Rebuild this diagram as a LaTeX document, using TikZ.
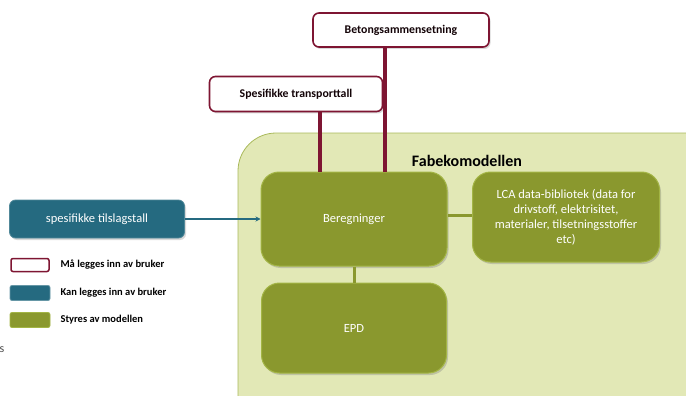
\documentclass[tikz,border=0pt]{standalone}
\usepackage{fontspec}
\setmainfont{Carlito}
\usetikzlibrary{arrows.meta,shadows}
\definecolor{olive}{HTML}{8A982E}
\definecolor{oliveedge}{HTML}{A3B545}
\definecolor{pale}{HTML}{E2E8B6}
\definecolor{paleedge}{HTML}{A9B95A}
\definecolor{wine}{HTML}{7E1532}
\definecolor{teal}{HTML}{256A80}
\tikzset{
  x=1pt,y=-1pt,
  greenbox/.style={draw=oliveedge,line width=1pt,fill=olive,rounded corners=18pt,
    drop shadow={shadow xshift=1.5pt,shadow yshift=-2pt,opacity=0.35}},
  inbox/.style={draw=wine,line width=1.6pt,fill=white,rounded corners=6pt,
    drop shadow={shadow xshift=1.5pt,shadow yshift=-2pt,opacity=0.3}},
  tealbox/.style={draw=teal!80!white,line width=0.8pt,fill=teal,rounded corners=6pt,
    drop shadow={shadow xshift=1.5pt,shadow yshift=-2pt,opacity=0.3}},
  wtext/.style={text=white,font=\fontsize{12.5}{15}\selectfont,align=center},
  btext/.style={text=black!85!wine,font=\fontsize{11.8}{14}\bfseries\selectfont},
  legtext/.style={anchor=west,font=\fontsize{10.5}{12}\bfseries\selectfont},
  wineline/.style={draw=wine,line width=3.5pt},
  oliveline/.style={draw=olive,line width=3pt},
}
\begin{document}
\begin{tikzpicture}
\useasboundingbox (0,0) rectangle (686,396);
% big model area
\fill[pale,draw=paleedge,line width=0.8pt,rounded corners=38pt] (238,133) rectangle (740,440);
\node[font=\fontsize{16}{18}\bfseries\selectfont] (title) at (467,161) {Fabekomodellen};
% boxes
\node[greenbox,minimum width=186pt,minimum height=94pt] (ber) at (354,219) {};
\node[wtext] at (ber) {Beregninger};
\node[greenbox,minimum width=187pt,minimum height=90pt] (lca) at (566,217) {};
\node[wtext] at (lca) {LCA data-bibliotek (data for\\drivstoff, elektrisitet,\\materialer, tilsetningsstoffer\\etc)};
\node[greenbox,minimum width=185pt,minimum height=90pt] (epd) at (354,328) {};
\node[wtext] at (epd) {EPD};
\node[inbox,minimum width=176pt,minimum height=34pt] (bet) at (401,30) {};
\node[btext] at (bet) {Betongsammensetning};
\node[inbox,minimum width=173pt,minimum height=35pt] (tra) at (296,94) {};
\node[btext] at (tra) {Spesifikke transporttall};
\node[tealbox,minimum width=175pt,minimum height=38pt] (til) at (97,219) {};
\node[wtext] at (til) {spesifikke tilslagstall};
% connectors
\draw[wineline] (tra.south -| 320,0) -- (ber.north -| 320,0);
\draw[wineline] (bet.south -| 385,0) -- (ber.north -| 385,0);
\draw[draw=teal,line width=2pt,-{Stealth[length=5pt,width=5pt]}] (til.east) -- (til.east -| ber.west);
\draw[oliveline] (lca.west |- 0,215) -- (ber.east |- 0,215);
\draw[oliveline] (ber.south) -- (epd.north);
% legend
\node[draw=wine,line width=1.5pt,fill=white,rounded corners=2pt,minimum width=38pt,minimum height=13pt] (l1) at (30,265) {};
\node[draw=teal!70!white,line width=0.8pt,fill=teal,rounded corners=2pt,minimum width=40pt,minimum height=15pt] (l2) at (30,293) {};
\node[draw=oliveedge,line width=0.8pt,fill=olive,rounded corners=2pt,minimum width=40pt,minimum height=15pt] (l3) at (30,320) {};
\node[legtext] (t1) at (57,265) {Må legges inn av bruker};
\node[legtext] (t2) at (57,293) {Kan legges inn av bruker};
\node[legtext] (t3) at (57,320) {Styres av modellen};
\node[font=\fontsize{12}{14}\selectfont,text=black!70] (s) at (2,350) {s};
\end{tikzpicture}
\end{document}
